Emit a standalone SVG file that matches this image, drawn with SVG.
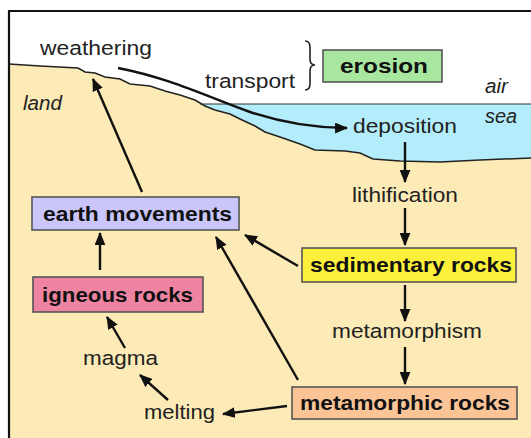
<svg xmlns="http://www.w3.org/2000/svg" width="531" height="438" viewBox="0 0 531 438">
<style>
.t{font-family:"Liberation Sans",Arial,sans-serif;font-size:20.5px;fill:#222}
.i{font-style:italic}
.b{font-weight:bold;fill:#111;font-size:21px}
.box{stroke:#555;stroke-width:1.6}
.c{fill:none;stroke:#111;stroke-width:2.4}
</style>
<defs>
<marker id="ah" viewBox="0 0 12 10" refX="11" refY="5" markerWidth="13" markerHeight="11" markerUnits="userSpaceOnUse" orient="auto">
<path d="M0,0 L12,5 L0,10 z" fill="#111"/>
</marker>
</defs>
<rect x="0" y="0" width="531" height="438" fill="#fff"/>
<g id="background">
<path d="M9,64 L40,66 L78,68 L85,72 L95,73 L105,77 L120,79 L130,84 L150,86 L165,91 L180,95 L195,100 L205,106 L215,110 L230,114 L240,119 L255,126 L265,132 L280,137 L300,144 L315,150 L345,151 L360,153 L373,159 L400,161 L440,162 L480,160 L531,158 L531,438 L9,438 Z" fill="#FCEBB6"/>
<path d="M200,104 L531,104 L531,158 L480,160 L440,162 L400,161 L373,159 L360,153 L345,151 L315,150 L300,144 L280,137 L265,132 L255,126 L240,119 L230,114 L215,110 L205,106 Z" fill="#B3ECFA"/>
<path d="M9,64 L40,66 L78,68 L85,72 L95,73 L105,77 L120,79 L130,84 L150,86 L165,91 L180,95 L195,100 L205,106 L215,110 L230,114 L240,119 L255,126 L265,132 L280,137 L300,144 L315,150 L345,151 L360,153 L373,159 L400,161 L440,162 L480,160 L531,158" fill="none" stroke="#222" stroke-width="1.5"/>
<line x1="200" y1="104" x2="531" y2="104" stroke="#333" stroke-width="1.2"/>
<line x1="9" y1="11" x2="531" y2="11" stroke="#111" stroke-width="2.2"/>
<line x1="9" y1="10" x2="9" y2="438" stroke="#111" stroke-width="2.2"/>
<text class="t i" x="23" y="110" textLength="39" lengthAdjust="spacingAndGlyphs" font-size="18">land</text>
<text class="t i" x="485" y="93" textLength="23" lengthAdjust="spacingAndGlyphs" font-size="18">air</text>
<text class="t i" x="485" y="123" textLength="32" lengthAdjust="spacingAndGlyphs" font-size="18">sea</text>
<path d="M305,41 Q310,41 310,47 L310,59 Q310,65 315,65 Q310,65 310,71 L310,84 Q310,90 305,90" fill="none" stroke="#222" stroke-width="1.6"/>
</g>
<g id="weathering"><text class="t" x="40" y="55" textLength="112" lengthAdjust="spacingAndGlyphs">weathering</text></g>
<g id="transport"><text class="t" x="205" y="88" textLength="90" lengthAdjust="spacingAndGlyphs">transport</text></g>
<g id="erosion">
<rect class="box" x="323" y="50" width="119" height="32" fill="#A9E7A0"/>
<text class="t b" x="340" y="73" textLength="88" lengthAdjust="spacingAndGlyphs">erosion</text>
</g>
<g id="deposition"><text class="t" x="353" y="133" textLength="104" lengthAdjust="spacingAndGlyphs">deposition</text></g>
<g id="lithification"><text class="t" x="352" y="202" textLength="106" lengthAdjust="spacingAndGlyphs">lithification</text></g>
<g id="sedimentary-rocks">
<rect class="box" x="302" y="248" width="214" height="34" fill="#FDF03A"/>
<text class="t b" x="310" y="272" textLength="202" lengthAdjust="spacingAndGlyphs">sedimentary rocks</text>
</g>
<g id="metamorphism"><text class="t" x="332" y="338" textLength="150" lengthAdjust="spacingAndGlyphs">metamorphism</text></g>
<g id="metamorphic-rocks">
<rect class="box" x="292" y="387" width="225" height="32" fill="#FBC497"/>
<text class="t b" x="300" y="410" textLength="210" lengthAdjust="spacingAndGlyphs">metamorphic rocks</text>
</g>
<g id="melting"><text class="t" x="144" y="419" textLength="71" lengthAdjust="spacingAndGlyphs">melting</text></g>
<g id="magma"><text class="t" x="83" y="365" textLength="75" lengthAdjust="spacingAndGlyphs">magma</text></g>
<g id="igneous-rocks">
<rect class="box" x="33" y="277" width="170" height="35" fill="#EE84A2"/>
<text class="t b" x="42" y="302" textLength="151" lengthAdjust="spacingAndGlyphs">igneous rocks</text>
</g>
<g id="earth-movements">
<rect class="box" x="32" y="197" width="207" height="33" fill="#CAC6FA"/>
<text class="t b" x="43" y="221" textLength="189" lengthAdjust="spacingAndGlyphs">earth movements</text>
</g>
<g id="connectors">
<path class="c" d="M118,68 C170,78 210,98 250,112 C280,122 310,128 347,128" marker-end="url(#ah)"/>
<line class="c" x1="405" y1="142" x2="405" y2="182" marker-end="url(#ah)"/>
<line class="c" x1="405" y1="208" x2="405" y2="245" marker-end="url(#ah)"/>
<line class="c" x1="405" y1="285" x2="405" y2="321" marker-end="url(#ah)"/>
<line class="c" x1="405" y1="347" x2="405" y2="384" marker-end="url(#ah)"/>
<line class="c" x1="287" y1="406" x2="223" y2="414" marker-end="url(#ah)"/>
<line class="c" x1="168" y1="400" x2="140" y2="375" marker-end="url(#ah)"/>
<line class="c" x1="125" y1="348" x2="107" y2="317" marker-end="url(#ah)"/>
<line class="c" x1="100" y1="270" x2="100" y2="233" marker-end="url(#ah)"/>
<line class="c" x1="142" y1="192" x2="93" y2="79" marker-end="url(#ah)"/>
<line class="c" x1="298" y1="266" x2="245" y2="235" marker-end="url(#ah)"/>
<line class="c" x1="298" y1="380" x2="216" y2="237" marker-end="url(#ah)"/>
</g>
</svg>
